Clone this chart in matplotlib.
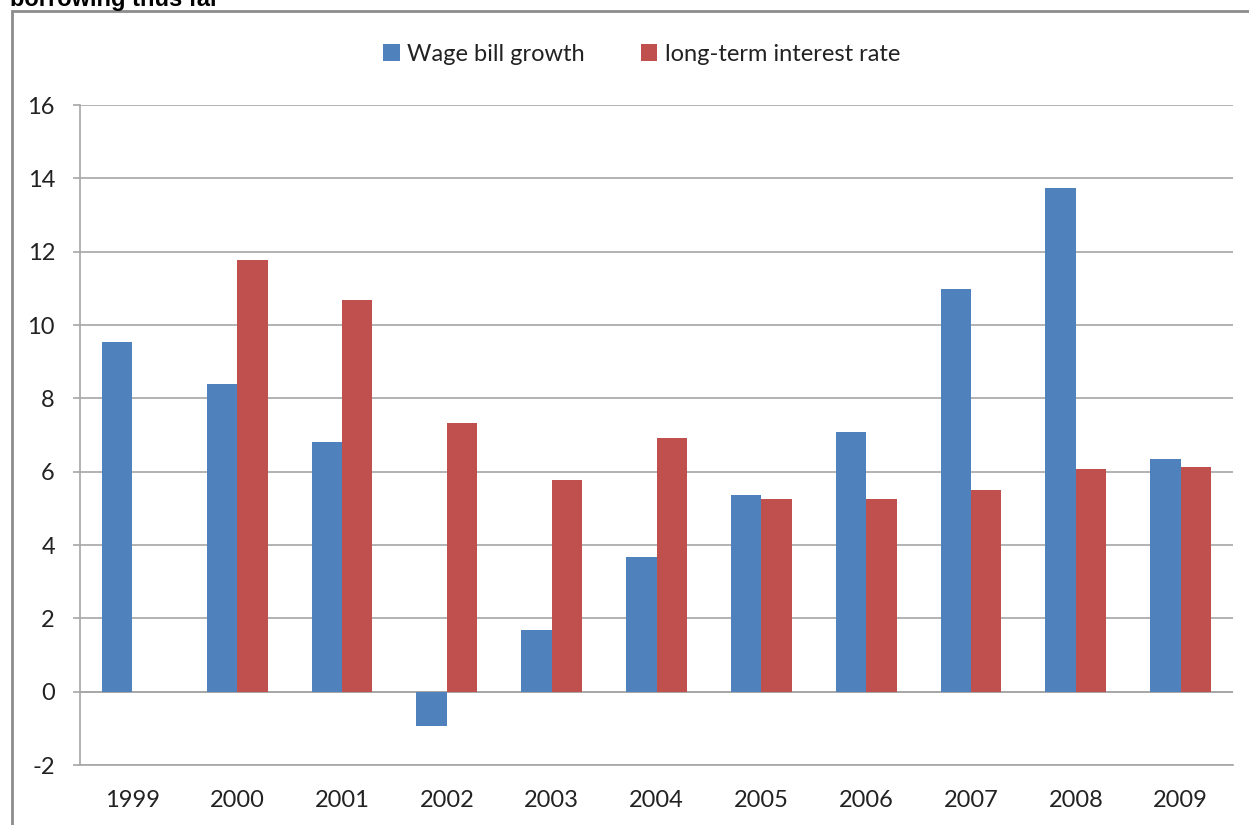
import numpy as np
import matplotlib.pyplot as plt
from matplotlib.patches import Rectangle

# data
years = ['1999', '2000', '2001', '2002', '2003', '2004',
         '2005', '2006', '2007', '2008', '2009']
wage_bill = [9.54, 8.39, 6.81, -0.94, 1.68, 3.67, 5.36, 7.08, 10.97, 13.73, 6.35]
interest = [np.nan, 11.77, 10.68, 7.33, 5.77, 6.92, 5.25, 5.25, 5.49, 6.07, 6.12]

blue = '#4f81bd'
red = '#c0504d'
grid = '#a6a6a6'

plt.rcParams['font.family'] = ['Lato', 'DejaVu Sans']
plt.rcParams['axes.unicode_minus'] = False

fig = plt.figure(figsize=(12.49, 8.25), dpi=100)
# plot area in pixels: x 80..1233, y 105..765
ax = fig.add_axes([80/1249, 1 - 765/825, 1153/1249, 660/825])

x = np.arange(len(years))
w = 0.29
ax.bar(x - w/2, wage_bill, w, color=blue, label='Wage bill growth', zorder=3)
ax.bar(x + w/2, interest, w, color=red, label='long-term interest rate', zorder=3)

ax.set_xlim(-0.5, len(years) - 0.5)
ax.set_ylim(-2, 16)
ax.set_yticks(np.arange(-2, 17, 2))
ax.set_xticks(x)
ax.set_xticklabels(years)
ax.yaxis.grid(True, color=grid, linewidth=1.2, zorder=0)
ax.axhline(0, color=grid, linewidth=1.2, zorder=2)

for s in ['top', 'right']:
    ax.spines[s].set_visible(False)
for s in ['left', 'bottom']:
    ax.spines[s].set_color(grid)
    ax.spines[s].set_linewidth(1.2)
ax.tick_params(axis='y', length=5, color=grid, width=1.2, labelsize=17,
               labelcolor='#222222', pad=13)
ax.tick_params(axis='x', length=0, labelsize=17, labelcolor='#222222', pad=18)

ax.legend(loc='upper center', bbox_to_anchor=(0.487, 1.125), ncol=2, frameon=False,
          fontsize=17, handlelength=0.7, handleheight=0.7, handletextpad=0.3,
          columnspacing=2.4, labelcolor='#222222')

# outer chart frame (cut off at right and bottom)
fig.patches.append(Rectangle((12/1249, -0.05), 1.1, 1 - 11/825 + 0.05,
                             transform=fig.transFigure, fill=False,
                             edgecolor='#8c8c8c', linewidth=2))

# cropped heading above the chart
fig.text(10/1249, 1 - 6/825, 'borrowing thus far', fontsize=17, fontweight='bold',
         family=['Liberation Sans', 'DejaVu Sans'], va='baseline', ha='left')

fig.savefig('out.png', dpi=100)
